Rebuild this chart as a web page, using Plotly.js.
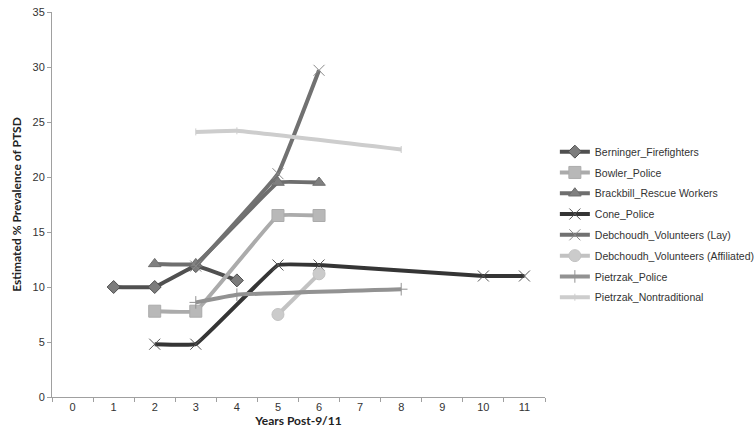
<!DOCTYPE html>
<html>
<head>
<meta charset="utf-8">
<script src="https://cdn.plot.ly/plotly-3.0.1.min.js"></script>
<style>
  html, body { margin: 0; padding: 0; background: #fff; }
  #chart { width: 754px; height: 442px; }
</style>
</head>
<body>
<div id="chart"></div>
<script>
// years post-9/11 (category axis)
var years = ["0", "1", "2", "3", "4", "5", "6", "7", "8", "9", "10", "11"];

var berningerX = ["1", "2", "3", "4"];
var berningerY = [10.0, 10.0, 11.9, 10.6];

var bowlerX = ["2", "3", "5", "6"];
var bowlerY = [7.8, 7.8, 16.5, 16.5];

var brackbillX = ["2", "3", "5", "6"];
var brackbillY = [12.1, 12.1, 19.5, 19.5];

var coneX = ["2", "3", "5", "6", "10", "11"];
var coneY = [4.8, 4.8, 12.0, 12.0, 11.0, 11.0];

var layX = ["3", "5", "6"];
var layY = [11.9, 20.3, 29.7];

var affX = ["5", "6"];
var affY = [7.5, 11.2];

var pietPoliceX = ["3", "4", "8"];
var pietPoliceY = [8.6, 9.3, 9.8];

var pietNonX = ["3", "4", "8"];
var pietNonY = [24.1, 24.2, 22.5];

function series(name, xs, ys, lineColor, markerColor, symbol, size) {
    return {
        name: name,
        legendgroup: name,
        x: xs,
        y: ys,
        type: "scatter",
        mode: "lines+markers",
        line: {color: lineColor, width: 4, shape: "spline", smoothing: 0.2},
        marker: {symbol: symbol, size: size, color: markerColor,
                 line: {color: lineColor, width: 1}},
        hoverinfo: "x+y+name"
    };
}

var data = [
    series("Berninger_Firefighters", berningerX, berningerY, "#505050", "#7c7c7c", "diamond", 10),
    series("Bowler_Police", bowlerX, bowlerY, "#ababab", "#b8b8b8", "square", 12),
    series("Brackbill_Rescue Workers", brackbillX, brackbillY, "#6e6e6e", "#808080", "triangle-up", 11),
    series("Cone_Police", coneX, coneY, "#353535", "#555555", "x-thin-open", 11),
    series("Debchoudh_Volunteers (Lay)", layX, layY, "#717171", "#8a8a8a", "x-thin-open", 11),
    series("Debchoudh_Volunteers (Affiliated)", affX, affY, "#c2c2c2", "#cbcbcb", "circle", 12),
    series("Pietrzak_Police", pietPoliceX, pietPoliceY, "#929292", "#929292", "cross-thin-open", 9),
    series("Pietrzak_Nontraditional", pietNonX, pietNonY, "#cdcdcd", "#cdcdcd", "line-ns-open", 5)
];

var layout = {
    width: 754,
    height: 442,
    margin: {l: 52, r: 209, t: 12, b: 45, autoexpand: false},
    paper_bgcolor: "#ffffff",
    plot_bgcolor: "#ffffff",
    font: {family: "Liberation Sans, Arial, sans-serif", size: 11, color: "#333333"},
    showlegend: true,
    legend: {
        x: 1.02, y: 0.675, xanchor: "left", yanchor: "top",
        font: {size: 10.5, color: "#333333"},
        bgcolor: "rgba(0,0,0,0)",
        traceorder: "grouped",
        tracegroupgap: 1.8
    },
    xaxis: {
        type: "category",
        categoryorder: "array",
        categoryarray: years,
        range: [-0.5, 11.5],
        showgrid: false,
        zeroline: false,
        showline: true,
        linecolor: "#a0a0a0",
        linewidth: 1,
        ticks: "outside",
        tickson: "boundaries",
        ticklen: 4,
        tickcolor: "#a0a0a0",
        tickfont: {size: 11, color: "#333333"},
        title: {text: "Years Post-9/11", font: {family: "Lato, Open Sans, sans-serif", size: 12, color: "#222222", weight: "bold"}, standoff: 0}
    },
    yaxis: {
        range: [0, 35],
        tickvals: [0, 5, 10, 15, 20, 25, 30, 35],
        showgrid: false,
        zeroline: false,
        showline: true,
        linecolor: "#a0a0a0",
        linewidth: 1,
        ticks: "outside",
        ticklen: 4,
        tickcolor: "#a0a0a0",
        tickfont: {size: 11, color: "#333333"},
        title: {text: "Estimated % Prevalence of PTSD", font: {family: "Lato, Open Sans, sans-serif", size: 12, color: "#222222", weight: "bold"}, standoff: 8}
    }
};

Plotly.newPlot("chart", data, layout, {displayModeBar: false, staticPlot: true});
</script>
</body>
</html>
